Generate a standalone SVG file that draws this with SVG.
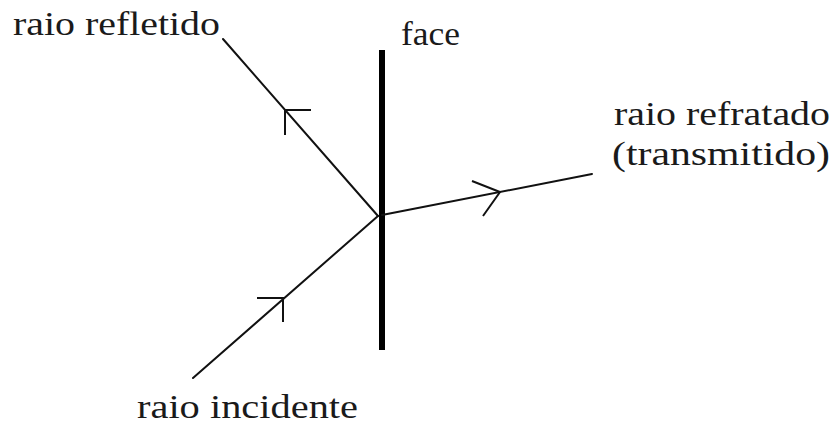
<svg xmlns="http://www.w3.org/2000/svg" width="836" height="427" viewBox="0 0 836 427">
<style>
text{font-family:'Liberation Serif','Times New Roman',serif;font-size:33px;fill:#1a1a1a}
.ray{stroke:#111;stroke-width:2;fill:none;stroke-linecap:round}
.arr{stroke:#111;stroke-width:2;fill:none}
</style>
<rect width="836" height="427" fill="#fff"/>
<g id="face">
<line x1="382" y1="50" x2="382" y2="350" stroke="#000" stroke-width="6"/>
<text x="401" y="45" textLength="59" lengthAdjust="spacingAndGlyphs">face</text>
</g>
<g id="connectors">
<g id="reflected">
<line class="ray" x1="223" y1="39" x2="378" y2="216"/>
<polyline class="arr" points="311,110 285,110 285,135"/>
</g>
<g id="incident">
<line class="ray" x1="193" y1="378" x2="378" y2="216"/>
<polyline class="arr" points="257,298 283,298 283,322"/>
</g>
<g id="refracted">
<line class="ray" x1="382" y1="215" x2="592" y2="174"/>
<polyline class="arr" points="472,181 500,192 483,216"/>
</g>
</g>
<g id="label-refletido"><text x="13" y="35" textLength="207" lengthAdjust="spacingAndGlyphs">raio refletido</text></g>
<g id="label-refratado"><text x="614" y="125" textLength="216" lengthAdjust="spacingAndGlyphs">raio refratado</text>
<text x="612" y="165" textLength="218" lengthAdjust="spacingAndGlyphs">(transmitido)</text></g>
<g id="label-incidente"><text x="137" y="418" textLength="221" lengthAdjust="spacingAndGlyphs">raio incidente</text></g>
</svg>
